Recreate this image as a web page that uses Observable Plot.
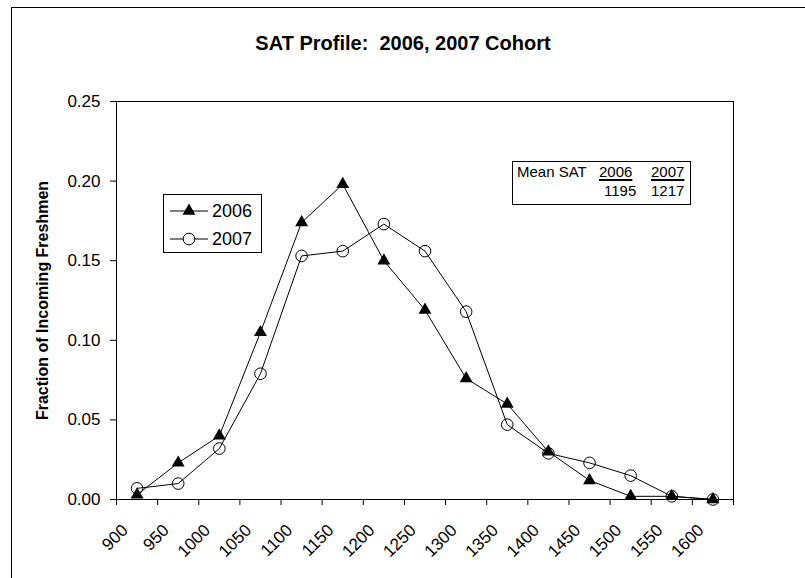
<!DOCTYPE html>
<html><head><meta charset="utf-8">
<script src="https://cdn.jsdelivr.net/npm/d3@7"></script>
<script src="https://cdn.jsdelivr.net/npm/@observablehq/plot@0.6"></script>
<style>
html,body{margin:0;padding:0;overflow:hidden;background:#fff;width:805px;height:578px;}
#wrap{position:relative;width:805px;height:578px;font-family:"Liberation Sans",Arial,sans-serif;color:#000;}
#border{position:absolute;left:11px;top:7px;width:1000px;height:1000px;border:1px solid #000;box-sizing:border-box;}
#chart{position:absolute;left:0;top:0;}
#title{position:absolute;left:0;width:806px;top:32px;text-align:center;font-weight:bold;font-size:20px;white-space:pre;}
#legend{position:absolute;left:163px;top:194px;width:99px;height:59px;border:1px solid #000;box-sizing:border-box;background:#fff;}
#legend svg{position:absolute;left:0;top:0;}
#means{position:absolute;left:512px;top:161px;width:179px;height:44px;border:1px solid #000;box-sizing:border-box;background:#fff;font-size:15px;}
#means span{position:absolute;white-space:pre;}
.ul{text-decoration:underline;text-decoration-thickness:2px;text-underline-offset:2px;}
</style></head>
<body>
<div id="wrap">
  <div id="border"></div>
  <div id="chart"></div>
  <div id="title"></div>
  <div id="legend"></div>
  <div id="means"></div>
</div>
<script>
// ---- data ----
const scores = [900, 950, 1000, 1050, 1100, 1150, 1200, 1250, 1300, 1350, 1400, 1450, 1500, 1550, 1600];
const frac2006 = [0.003, 0.023, 0.040, 0.105, 0.174, 0.198, 0.150, 0.119, 0.076, 0.060, 0.030, 0.012, 0.002, 0.002, 0.000];
const frac2007 = [0.007, 0.010, 0.032, 0.079, 0.153, 0.156, 0.173, 0.156, 0.118, 0.047, 0.029, 0.023, 0.015, 0.002, 0.000];
const binEdges = [875, 925, 975, 1025, 1075, 1125, 1175, 1225, 1275, 1325, 1375, 1425, 1475, 1525, 1575, 1625];
const yTicks = [0, 0.05, 0.10, 0.15, 0.20, 0.25];
const seriesNames = ["2006", "2007"];
const meanLabel = "Mean SAT";
const meanValues = [1195, 1217];
const titleText = "SAT Profile:  2006, 2007 Cohort";
const yLabel = "Fraction of Incoming Freshmen";

const rows2006 = scores.map((s, i) => ({score: s, frac: frac2006[i]}));
const rows2007 = scores.map((s, i) => ({score: s, frac: frac2007[i]}));

const plot = Plot.plot({
  width: 805,
  height: 578,
  marginTop: 101,
  marginBottom: 79,
  marginLeft: 116,
  marginRight: 72,
  style: {fontFamily: '"Liberation Sans", Arial, sans-serif', fontSize: "17px", color: "#000", background: "transparent", overflow: "visible"},
  x: {type: "linear", domain: [875, 1625]},
  y: {domain: [0, 0.25]},
  marks: [
    Plot.frame({stroke: "#000", strokeWidth: 1}),
    Plot.axisY({ticks: yTicks, tickFormat: d3.format(".2f"), tickSize: 6, tickPadding: 10, fontSize: 17, label: null, stroke: "#000"}),
    Plot.axisX({ticks: binEdges, tickSize: 6, tickFormat: () => "", label: null, stroke: "#000"}),
    Plot.axisX({ticks: scores, tickSize: 0, tickPadding: 14, tickRotate: -45, tickFormat: d => String(d), fontSize: 17, label: null, dx: -12, dy: 14}),
    Plot.text([yLabel], {text: d => d, frameAnchor: "left", textAnchor: "middle", rotate: -90, dx: -74, fontWeight: "bold", fontSize: 16}),
    Plot.line(rows2007, {x: "score", y: "frac", stroke: "#000", strokeWidth: 1}),
    Plot.line(rows2006, {x: "score", y: "frac", stroke: "#000", strokeWidth: 1}),
    Plot.dot(rows2007, {x: "score", y: "frac", r: 5.8, symbol: "circle", stroke: "#000", fill: "none", strokeWidth: 1}),
    Plot.dot(rows2006, {x: "score", y: "frac", r: 4.8, symbol: "triangle", fill: "#000", stroke: "none"})
  ]
});
document.getElementById("chart").appendChild(plot);
document.getElementById("title").textContent = titleText;

// legend
const lg = d3.select("#legend").append("svg").attr("width", 99).attr("height", 59);
const tri = d3.symbol(d3.symbolTriangle, 4.8 * 4.8 * Math.PI)();
const rowsY = [16, 44];
seriesNames.forEach((name, i) => {
  const y = rowsY[i];
  lg.append("line").attr("x1", 6).attr("x2", 44).attr("y1", y).attr("y2", y).attr("stroke", "#000");
  if (i === 0) lg.append("path").attr("d", tri).attr("transform", `translate(25,${y})`).attr("fill", "#000");
  else lg.append("circle").attr("cx", 25).attr("cy", y).attr("r", 5.8).attr("fill", "#fff").attr("stroke", "#000");
  lg.append("text").attr("x", 48).attr("y", y).attr("dy", "0.35em").attr("font-size", 18)
    .attr("font-family", '"Liberation Sans", Arial, sans-serif').text(name);
});

// means box
const m = document.getElementById("means");
const addSpan = (txt, left, top, cls) => {
  const s = document.createElement("span");
  s.textContent = txt; s.style.left = left + "px"; s.style.top = top + "px";
  if (cls) s.className = cls;
  m.appendChild(s);
};
addSpan(meanLabel, 4, 1);
addSpan(seriesNames[0], 86, 1, "ul");
addSpan(seriesNames[1], 138, 1, "ul");
addSpan(String(meanValues[0]), 91, 20);
addSpan(String(meanValues[1]), 138, 20);
</script>
</body></html>
